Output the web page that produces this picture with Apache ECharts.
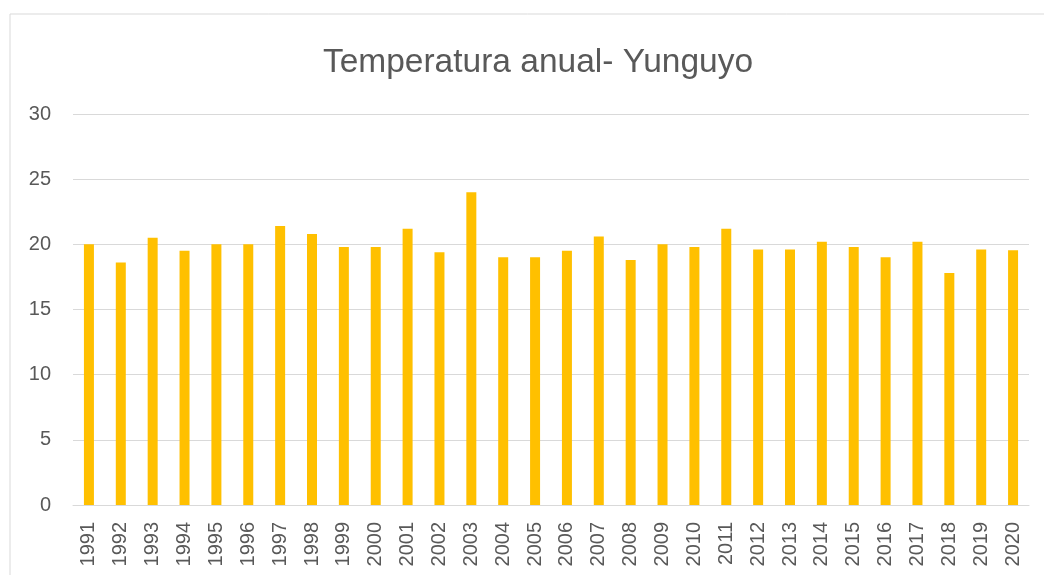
<!DOCTYPE html>
<html>
<head>
<meta charset="utf-8">
<script src="https://cdn.jsdelivr.net/npm/echarts@6/dist/echarts.min.js"></script>
<style>
  html, body { margin: 0; padding: 0; background: #fff; }
  #chart { width: 1044px; height: 575px; }
</style>
</head>
<body>
<div id="chart"></div>
<script>
// años y temperatura anual
const years = ['1991', '1992', '1993', '1994', '1995', '1996', '1997', '1998', '1999', '2000',
    '2001', '2002', '2003', '2004', '2005', '2006', '2007', '2008', '2009', '2010',
    '2011', '2012', '2013', '2014', '2015', '2016', '2017', '2018', '2019', '2020'];
const temps = [20.0, 18.6, 20.5, 19.5, 20.0, 20.0, 21.4, 20.8, 19.8, 19.8,
    21.2, 19.4, 24.0, 19.0, 19.0, 19.5, 20.6, 18.8, 20.0, 19.8,
    21.2, 19.6, 19.6, 20.2, 19.8, 19.0, 20.2, 17.8, 19.6, 19.55];
const titleText = 'Temperatura anual- Yunguyo';

const chart = echarts.init(document.getElementById('chart'));

const option = {
    animation: false,
    backgroundColor: '#fff',
    title: {
        text: titleText,
        left: 533,
        textAlign: 'center',
        top: 41,
        textStyle: {
            fontFamily: 'Liberation Sans',
            fontWeight: 'normal',
            fontSize: 33.5,
            color: '#595959'
        }
    },
    graphic: [{
        type: 'rect',
        shape: {x: 10, y: 14, width: 1100, height: 700},
        style: {fill: 'none', stroke: '#d9d9d9', lineWidth: 1},
        silent: true
    }],
    grid: {
        left: 73,
        right: 15,
        top: 114,
        bottom: 70
    },
    xAxis: {
        type: 'category',
        data: years,
        axisLine: {lineStyle: {color: '#d9d9d9', width: 1}},
        axisTick: {show: false},
        axisLabel: {
            rotate: 90,
            interval: 0,
            margin: 17,
            fontFamily: 'Liberation Sans',
            fontSize: 20,
            color: '#595959'
        }
    },
    yAxis: {
        type: 'value',
        min: 0,
        max: 30,
        interval: 5,
        axisLine: {show: false},
        axisTick: {show: false},
        axisLabel: {
            margin: 22,
            fontFamily: 'Liberation Sans',
            fontSize: 20,
            color: '#595959'
        },
        splitLine: {lineStyle: {color: '#d9d9d9', width: 1}}
    },
    series: [{
        type: 'bar',
        data: temps,
        barWidth: 10,
        itemStyle: {color: '#FFC000'}
    }]
};

chart.setOption(option);
</script>
</body>
</html>
